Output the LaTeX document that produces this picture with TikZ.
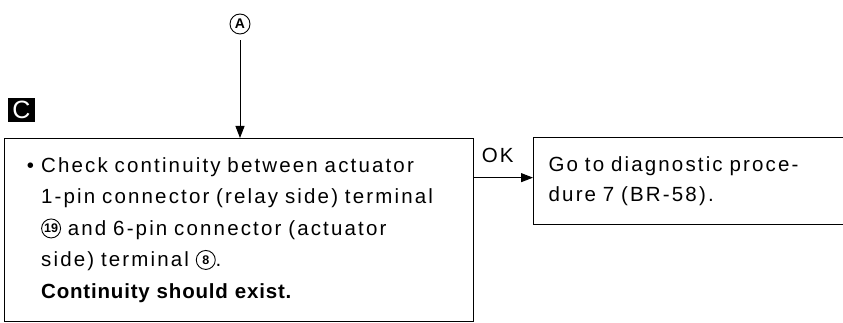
\documentclass[tikz,border=0pt]{standalone}
\usepackage{fontspec}
\setmainfont{Liberation Sans}[LetterSpace=10.5]
\usetikzlibrary{arrows.meta,positioning}

\tikzset{
  stepbox/.style={draw, line width=1.3pt, inner sep=0pt, anchor=north west,
    align=left, font=\fontsize{20.5}{31.5}\selectfont},
  flow/.style={line width=1pt, -{Triangle[length=12pt,width=9pt]}},
  flowlabel/.style={font=\fontsize{20.5}{20.5}\selectfont, inner sep=0pt},
  entry/.style={draw, circle, line width=0.9pt, minimum size=20pt, inner sep=0pt,
    font=\bfseries\fontsize{14}{14}\selectfont},
  tagbox/.style={fill=black, text=white, minimum width=27pt, minimum height=24pt,
    inner sep=0pt, font=\fontsize{25}{25}\selectfont},
  pin/.style={draw=none, anchor=center, text width=, align=center,
    minimum width=0pt, minimum height=0pt, inner sep=0pt,
    font=\bfseries\fontsize{12.5}{12.5}\selectfont\addfontfeatures{LetterSpace=0}}
}
\newcommand{\pinno}[1]{\tikz[baseline=-7pt]{%
  \draw[line width=0.9pt] (0,0) circle (9.5pt);
  \node[pin] (p) at (0,0) {#1};}}

\begin{document}
\begin{tikzpicture}[x=1pt,y=-1pt]
  \useasboundingbox (0,0) rectangle (843,323);

  % Entry point from procedure A
  \node[entry] (entryA) at (240,24) {A};

  % Step label
  \node[tagbox] (tagC) at (21.5,110) {C};

  % Check step
  \node[stepbox, minimum width=469pt, minimum height=183pt, text width=396pt]
    (check) at (4,138) {%
    \llap{\textbullet\hspace{7pt}}Check continuity between actuator\\
    1-pin connector (relay side) terminal\\
    \pinno{19} and 6-pin connector (actuator\\
    side) terminal \pinno{8}.\\
    {\bfseries\addfontfeatures{LetterSpace=4}Continuity should exist.}};

  % Next step when OK
  \node[stepbox, minimum width=320pt, minimum height=87pt, text width=290pt,
    font=\fontsize{20.5}{29.5}\selectfont] (goto) at (533,137)
    {Go to diagnostic proce-\\dure 7 (BR-58).};

  % Connectors
  \coordinate (okpt) at ([yshift=3.5pt]goto.west);
  \draw[flow, shorten <=6pt] (entryA.south) -- (entryA.south |- check.north);
  \draw[flow] (okpt -| check.east) -- (okpt)
    node[flowlabel, pos=0, anchor=base west, xshift=7pt, yshift=15pt] (oklabel) {OK};
\end{tikzpicture}
\end{document}
